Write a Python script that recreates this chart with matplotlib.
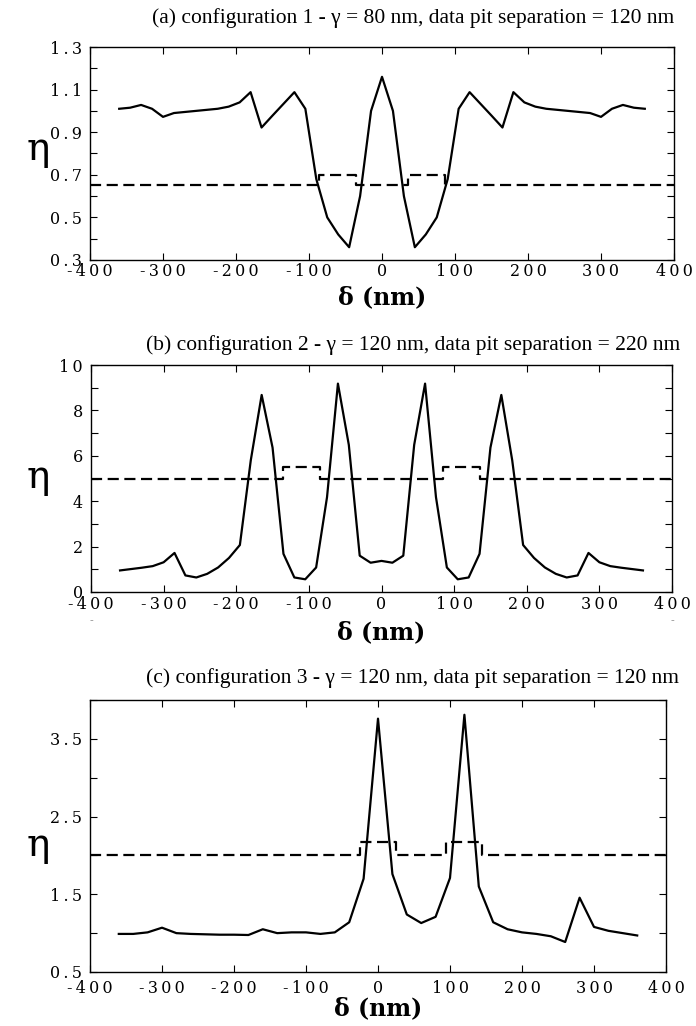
import matplotlib

matplotlib.use("Agg")
import matplotlib.pyplot as plt
from matplotlib.ticker import MultipleLocator

plt.rcParams["axes.unicode_minus"] = False

# panel (a): configuration 1
delta_a = [-360, -345, -330, -315, -300, -285, -270, -255, -240, -225, -210,
           -195, -180, -165, -150, -135, -120, -105, -90, -75, -60, -45, -30,
           -15, 0, 15, 30, 45, 60, 75, 90, 105, 120, 135, 150, 165, 180, 195,
           210, 225, 240, 255, 270, 285, 300, 315, 330, 345, 360]
eta_a = [1.01, 1.015, 1.028, 1.01, 0.972, 0.99, 0.995, 1.0, 1.005, 1.01, 1.02,
         1.04, 1.088, 0.922, 0.978, 1.033, 1.088, 1.01, 0.68, 0.50, 0.42, 0.36,
         0.60, 1.0, 1.16, 1.0, 0.60, 0.36, 0.42, 0.50, 0.68, 1.01, 1.088,
         1.033, 0.978, 0.922, 1.088, 1.04, 1.02, 1.01, 1.005, 1.0, 0.995, 0.99,
         0.972, 1.01, 1.028, 1.015, 1.01]
step_x_a = [-400, -86, -86, -35, -35, 35, 35, 86, 86, 400]
step_y_a = [0.65, 0.65, 0.70, 0.70, 0.65, 0.65, 0.70, 0.70, 0.65, 0.65]
yticks_a = [0.3, 0.5, 0.7, 0.9, 1.1, 1.3]

# panel (b): configuration 2
delta_b = delta_a
eta_b = [0.95, 1.01, 1.07, 1.14, 1.31, 1.72, 0.73, 0.64, 0.80, 1.08, 1.50,
         2.07, 5.8, 8.68, 6.36, 1.68, 0.64, 0.56, 1.08, 4.18, 9.18, 6.48, 1.60,
         1.29, 1.37, 1.29, 1.60, 6.48, 9.18, 4.18, 1.08, 0.56, 0.64, 1.68,
         6.36, 8.68, 5.8, 2.07, 1.50, 1.08, 0.80, 0.64, 0.73, 1.72, 1.31,
         1.14, 1.07, 1.01, 0.95]
step_x_b = [-400, -136, -136, -85, -85, 85, 85, 136, 136, 400]
step_y_b = [5.0, 5.0, 5.5, 5.5, 5.0, 5.0, 5.5, 5.5, 5.0, 5.0]
yticks_b = [0, 2, 4, 6, 8, 10]

# panel (c): configuration 3
delta_c = [-360, -340, -320, -300, -280, -260, -240, -220, -200, -180, -160,
           -140, -120, -100, -80, -60, -40, -20, 0, 20, 40, 60, 80, 100, 120,
           140, 160, 180, 200, 220, 240, 260, 280, 300, 320, 340, 360]
eta_c = [0.99, 0.99, 1.01, 1.07, 1.0, 0.99, 0.985, 0.98, 0.98, 0.976, 1.05,
         1.0, 1.01, 1.01, 0.99, 1.01, 1.14, 1.70, 3.76, 1.76, 1.24, 1.13, 1.21,
         1.71, 3.81, 1.60, 1.14, 1.05, 1.01, 0.99, 0.96, 0.886, 1.456, 1.08,
         1.03, 1.0, 0.97]
step_x_c = [-400, -25, -25, 25, 25, 95, 95, 145, 145, 400]
step_y_c = [2.0, 2.0, 2.17, 2.17, 2.0, 2.0, 2.17, 2.17, 2.0, 2.0]
yticks_c = [0.5, 1.5, 2.5, 3.5]

xticks = [-400, -300, -200, -100, 0, 100, 200, 300, 400]

titles = [
    "(a) configuration 1 - \u03b3 = 80 nm, data pit separation = 120 nm",
    "(b) configuration 2 - \u03b3 = 120 nm, data pit separation = 220 nm",
    "(c) configuration 3 - \u03b3 = 120 nm, data pit separation = 120 nm",
]

W, H = 696, 1026
fig = plt.figure(figsize=(W / 100, H / 100), dpi=100)


def px_axes(left, right, top, bottom):
    return fig.add_axes([left / W, 1 - bottom / H, (right - left) / W,
                         (bottom - top) / H])


def spaced(s):
    # the original tick font is wide and loosely set
    return "\u2009".join(s)


panels = [
    dict(box=(90, 674, 47, 260), x=delta_a, y=eta_a, sx=step_x_a, sy=step_y_a,
         ylim=(0.3, 1.3), yt=yticks_a, minor=0.1, fmt="%.1f", xpad=2,
         title_y=18, eta_y=150, xlab_y=297),
    dict(box=(91, 672, 365, 592), x=delta_b, y=eta_b, sx=step_x_b, sy=step_y_b,
         ylim=(0, 10), yt=yticks_b, minor=1, fmt="%d", xpad=3,
         title_y=345, eta_y=478, xlab_y=632),
    dict(box=(90, 666, 700, 972), x=delta_c, y=eta_c, sx=step_x_c, sy=step_y_c,
         ylim=(0.5, 4.0), yt=yticks_c, minor=0.5, fmt="%.1f", xpad=6,
         title_y=678, eta_y=845, xlab_y=1008),
]

serif = "DejaVu Serif"
for p, title in zip(panels, titles):
    l, r, t, b = p["box"]
    ax = px_axes(l, r, t, b)
    ax.plot(p["x"], p["y"], color="black", lw=1.6)
    ax.plot(p["sx"], p["sy"], color="black", lw=1.6, ls=(0, (5, 2.5)))
    ax.set_xlim(-400, 400)
    ax.set_ylim(*p["ylim"])
    ax.set_xticks(xticks)
    ax.set_xticklabels([spaced("%d" % v) for v in xticks])
    ax.set_yticks(p["yt"])
    ax.set_yticklabels([spaced(p["fmt"] % v) for v in p["yt"]])
    ax.yaxis.set_minor_locator(MultipleLocator(p["minor"]))
    ax.tick_params(which="both", direction="in", top=True, right=True,
                   length=5, width=0.8)
    ax.tick_params(axis="x", labelsize=11.5, pad=p["xpad"])
    ax.tick_params(axis="y", labelsize=11.5, pad=6)
    for lab in ax.get_xticklabels() + ax.get_yticklabels():
        lab.set_family(serif)
    for s in ax.spines.values():
        s.set_linewidth(1.0)
    fig.text(413 / W, 1 - p["title_y"] / H, title,
             ha="center", va="center", fontsize=15.5,
             family="Liberation Serif")
    fig.text((l + r) / 2 / W, 1 - p["xlab_y"] / H, "\u03b4 (nm)",
             ha="center", va="center", fontsize=17, fontweight="bold",
             family=serif)
    fig.text(38 / W, 1 - p["eta_y"] / H, "\u03b7", ha="center", va="center",
             fontsize=28, family=serif)

# small stray marks below the outer tick labels of panel (b)
for xm in (91, 672):
    fig.text(xm / W, 1 - 621 / H, "-", ha="center", va="center",
             fontsize=8, color="#999999", family=serif)

fig.savefig("out.png", dpi=100)
